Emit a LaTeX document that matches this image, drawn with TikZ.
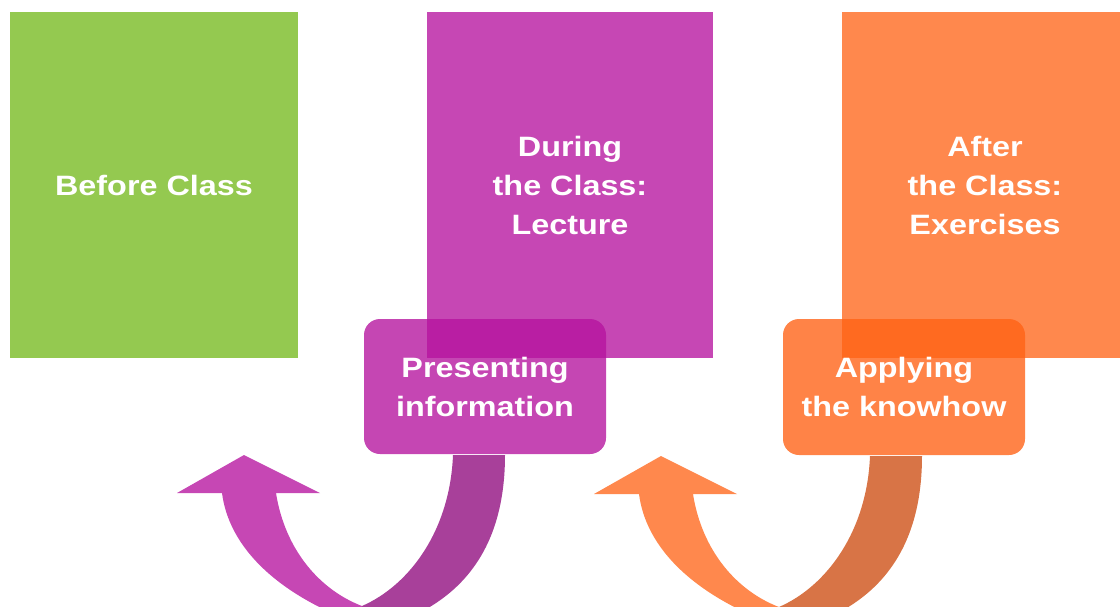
\documentclass[tikz,border=0pt]{standalone}
\usepackage{fontspec}
\setmainfont{Liberation Sans}
\newfontfamily\lblfont[FakeStretch=1.155]{Liberation Sans}
\definecolor{cgreen}{RGB}{148,201,80}
\definecolor{cpurple}{RGB}{198,71,180}
\definecolor{cpurpleA}{RGB}{182,20,159}
\definecolor{cpurpleD}{RGB}{168,64,154}
\definecolor{corange}{RGB}{255,136,77}
\definecolor{corangeA}{RGB}{255,98,21}
\definecolor{corangeD}{RGB}{216,116,70}
\begin{document}
\begin{tikzpicture}[x=1pt,y=-1pt,
  lbl/.style={text=white,font=\lblfont\fontsize{28}{39}\selectfont\bfseries,align=center},
  bigbox/.style={lbl,inner sep=0pt},
  tagbox/.style={lbl,inner sep=0pt,rounded corners=16pt,fill opacity=0.79,text opacity=1}]
\useasboundingbox (0,0) rectangle (1120,606);
\clip (0,0) rectangle (1120,606);
% big boxes
\node[bigbox,fill=cgreen,minimum width=288pt,minimum height=346pt] (before) at (154,185) {Before Class};
\node[bigbox,fill=cpurple,minimum width=286pt,minimum height=346pt] (during) at (570,185) {During\\the Class:\\Lecture};
\node[bigbox,fill=corange,minimum width=286pt,minimum height=346pt] (after) at (985,185) {After\\the Class:\\Exercises};
% curved arrows
\newcommand{\curvedarrow}[2]{%
  \fill[#2] (453,455) -- (505,455) .. controls (505,545) and (465,600) .. (390,625)
     -- (362,625) -- (362,606) .. controls (410,585) and (450,530) .. (453,455) -- cycle;
  \fill[#1] (222,493) -- (177,493) -- (244,455) -- (320,493) -- (276,493)
     .. controls (285,550) and (320,590) .. (362,606) -- (362,625)
     .. controls (290,600) and (230,555) .. (222,493) -- cycle;}
\curvedarrow{cpurple}{cpurpleD}
\begin{scope}[shift={(417,1)}]
\curvedarrow{corange}{corangeD}
\end{scope}
% tag boxes
\node[tagbox,fill=cpurpleA,minimum width=242pt,minimum height=135pt] (present) at (485,386.5) {Presenting\\information};
\node[tagbox,fill=corangeA,minimum width=242pt,minimum height=136pt] (apply) at (904,387) {Applying\\the knowhow};
\end{tikzpicture}
\end{document}
